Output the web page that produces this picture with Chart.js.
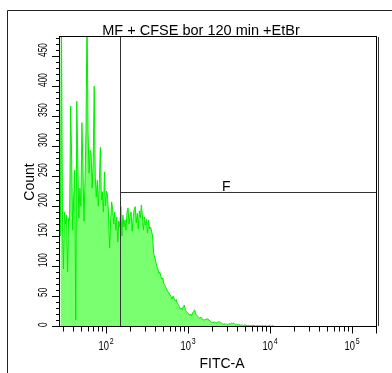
<!DOCTYPE html>
<html>
<head>
<meta charset="utf-8">
<script src="https://cdn.jsdelivr.net/npm/chart.js@4.4.1/dist/chart.umd.min.js"></script>
<style>
  html, body { margin: 0; padding: 0; background: #fff; }
  #wrap { position: relative; width: 392px; height: 373px; }
</style>
</head>
<body>
<div id="wrap"><canvas id="hist"></canvas></div>
<script>
// Texte
const titre = "MF + CFSE bor 120 min +EtBr";
const titreX = "FITC-A";
const titreY = "Count";
const nomGate = "F";

// Canaux de l'histogramme (log, 80 canaux par decade, a partir de 28)
const premierCanal = 28;
const canauxParDecade = 80;

// Comptes, un par canal
const comptes = [
  150, 520, 185, 95, 190, 170, 185, 90, 180, 175,
  367, 277, 160, 215, 260, 10, 375, 277, 180, 230,
  200, 339, 265, 175, 240, 328, 520, 323, 255, 293,
  288, 230, 273, 400, 250, 215, 243, 200, 240, 298,
  210, 224, 190, 257, 200, 225, 218, 185, 130, 175,
  207, 195, 170, 190, 160, 182, 140, 175, 165,
  199, 150, 185, 165, 177, 160, 190, 197, 170, 185,
  190, 158, 180, 195, 199, 172, 188, 162, 192, 180,
  202, 185, 160, 182, 168, 178, 155, 177, 162, 165,
  158, 150, 121, 115,
  108, 100, 96, 88, 90, 82, 78, 80, 70, 68,
  64, 60, 57, 55, 52, 49, 45, 50, 46, 42,
  44, 38, 35, 33, 28, 30, 27, 33, 35, 26,
  24, 22, 21, 18, 20, 17, 22, 24, 27, 20,
  18, 16, 14, 13, 15, 12, 11, 10, 10, 12,
  11, 12, 9, 9, 7, 5, 6, 7, 6, 5,
  6, 7, 7, 6, 5, 4, 3, 4, 3, 3,
  2, 3, 4, 3, 5, 4, 5, 3, 2, 3,
  2, 2, 2, 1, 2, 1, 1, 2, 1, 1,
  0, 1, 0,
  1, 0, 1, 1, 0, 0, 1, 0, 1, 0,
  0, 1, 0, 0, 1, 0, 0, 0, 1, 0,
  0, 1, 0
];

// Axes
const bornesX = [27.7, 197700];
const bornesY = [0, 482];
const decades = [100, 1000, 10000, 100000];
const exposants = ["2", "3", "4", "5"];
const ticksY = [0, 50, 100, 150, 200, 250, 300, 350, 400, 450];

// Gate F
const gateX = [149, 210000];
const gateY = 223;

const points = comptes.map((c, i) => ({
  x: premierCanal * Math.pow(10, i / canauxParDecade),
  y: c
}));

const police = '"Liberation Sans", Arial, sans-serif';

// Dessin du cadre, des graduations, des textes et du gate
const decor = {
  id: 'decor',
  afterDraw(chart) {
    const ctx = chart.ctx;
    const sx = chart.scales.x, sy = chart.scales.y;
    const a = chart.chartArea;
    const px = v => Math.round(sx.getPixelForValue(v)) + 0.5;
    const py = v => Math.round(sy.getPixelForValue(v)) + 0.5;
    ctx.save();
    ctx.lineWidth = 1;

    // cadre exterieur
    ctx.strokeStyle = '#222';
    ctx.beginPath();
    ctx.moveTo(7.5, 373); ctx.lineTo(7.5, 10.5); ctx.lineTo(392, 10.5);
    ctx.stroke();

    // gate
    ctx.strokeStyle = '#333';
    const g0 = px(gateX[0]), g1 = px(gateX[1]), gy = py(gateY);
    ctx.beginPath();
    ctx.moveTo(g0, a.top); ctx.lineTo(g0, a.bottom);
    ctx.moveTo(g0, gy); ctx.lineTo(a.right, gy);
    ctx.moveTo(g1, a.top); ctx.lineTo(g1, a.bottom);
    ctx.stroke();

    // cadre du graphe
    ctx.strokeStyle = '#000';
    ctx.strokeRect(a.left - 0.5, a.top - 0.5, a.right - a.left + 1, a.bottom - a.top + 1);

    // graduations Y
    ctx.beginPath();
    for (let v = 0; v <= bornesY[1]; v += 10) {
      const y = py(v);
      const major = v % 50 === 0;
      ctx.moveTo(a.left - (major ? 8 : 4), y); ctx.lineTo(a.left, y);
    }
    // graduations X
    const b = a.bottom + 0.5;
    for (let d = 10; d <= 100000; d *= 10) {
      for (let m = 1; m <= 9; m++) {
        const v = d * m;
        if (v < bornesX[0] || v > bornesX[1]) continue;
        const x = px(v);
        ctx.moveTo(x, b); ctx.lineTo(x, b + (m === 1 ? 7 : 5));
      }
    }
    ctx.moveTo(a.right + 0.5, b); ctx.lineTo(a.right + 0.5, b + 7);
    ctx.stroke();

    ctx.fillStyle = '#000';
    // etiquettes Y (tournees, etroites)
    ctx.font = '12px ' + police;
    ctx.textAlign = 'left';
    ctx.textBaseline = 'alphabetic';
    ticksY.forEach(v => {
      ctx.save();
      ctx.translate(47, Math.round(sy.getPixelForValue(v)) + 1);
      ctx.rotate(-Math.PI / 2);
      ctx.scale(0.7, 1);
      ctx.fillText(String(v), 0, 0);
      ctx.restore();
    });

    // etiquettes X : 10^n
    decades.forEach((d, i) => {
      const x = sx.getPixelForValue(d);
      ctx.save();
      ctx.font = '12px ' + police;
      const w1 = ctx.measureText("10").width * 0.78;
      ctx.font = '9px ' + police;
      const w2 = ctx.measureText(exposants[i]).width * 0.78;
      const x0 = x - (w1 + w2) / 2;
      ctx.translate(x0, 350);
      ctx.scale(0.78, 1);
      ctx.font = '12px ' + police;
      ctx.fillText("10", 0, 0);
      ctx.font = '9px ' + police;
      ctx.fillText(exposants[i], w1 / 0.78 + 1, -6);
      ctx.restore();
    });

    // titres
    ctx.font = '14.5px ' + police;
    ctx.textAlign = 'center';
    ctx.fillText(titre, 201, 35);
    ctx.font = '14px ' + police;
    ctx.fillText(titreX, 222, 368);
    ctx.save();
    ctx.translate(33.5, 182);
    ctx.rotate(-Math.PI / 2);
    ctx.fillText(titreY, 0, 0);
    ctx.restore();

    // nom du gate
    ctx.textAlign = 'left';
    ctx.fillText(nomGate, 222, gy - 2);
    ctx.restore();
  }
};

new Chart(document.getElementById('hist'), {
  type: 'line',
  data: {
    datasets: [{
      label: titreX,
      data: points,
      borderColor: '#00ee00',
      backgroundColor: '#79ff6f',
      borderWidth: 1,
      pointRadius: 0,
      tension: 0,
      fill: 'origin'
    }]
  },
  options: {
    responsive: true,
    maintainAspectRatio: false,
    animation: false,
    layout: { padding: { left: 60, top: 37, right: 16, bottom: 47 } },
    plugins: { legend: { display: false }, tooltip: { enabled: false } },
    scales: {
      x: { type: 'logarithmic', min: bornesX[0], max: bornesX[1], display: false },
      y: { type: 'linear', min: bornesY[0], max: bornesY[1], display: false }
    }
  },
  plugins: [decor]
});
</script>
</body>
</html>
